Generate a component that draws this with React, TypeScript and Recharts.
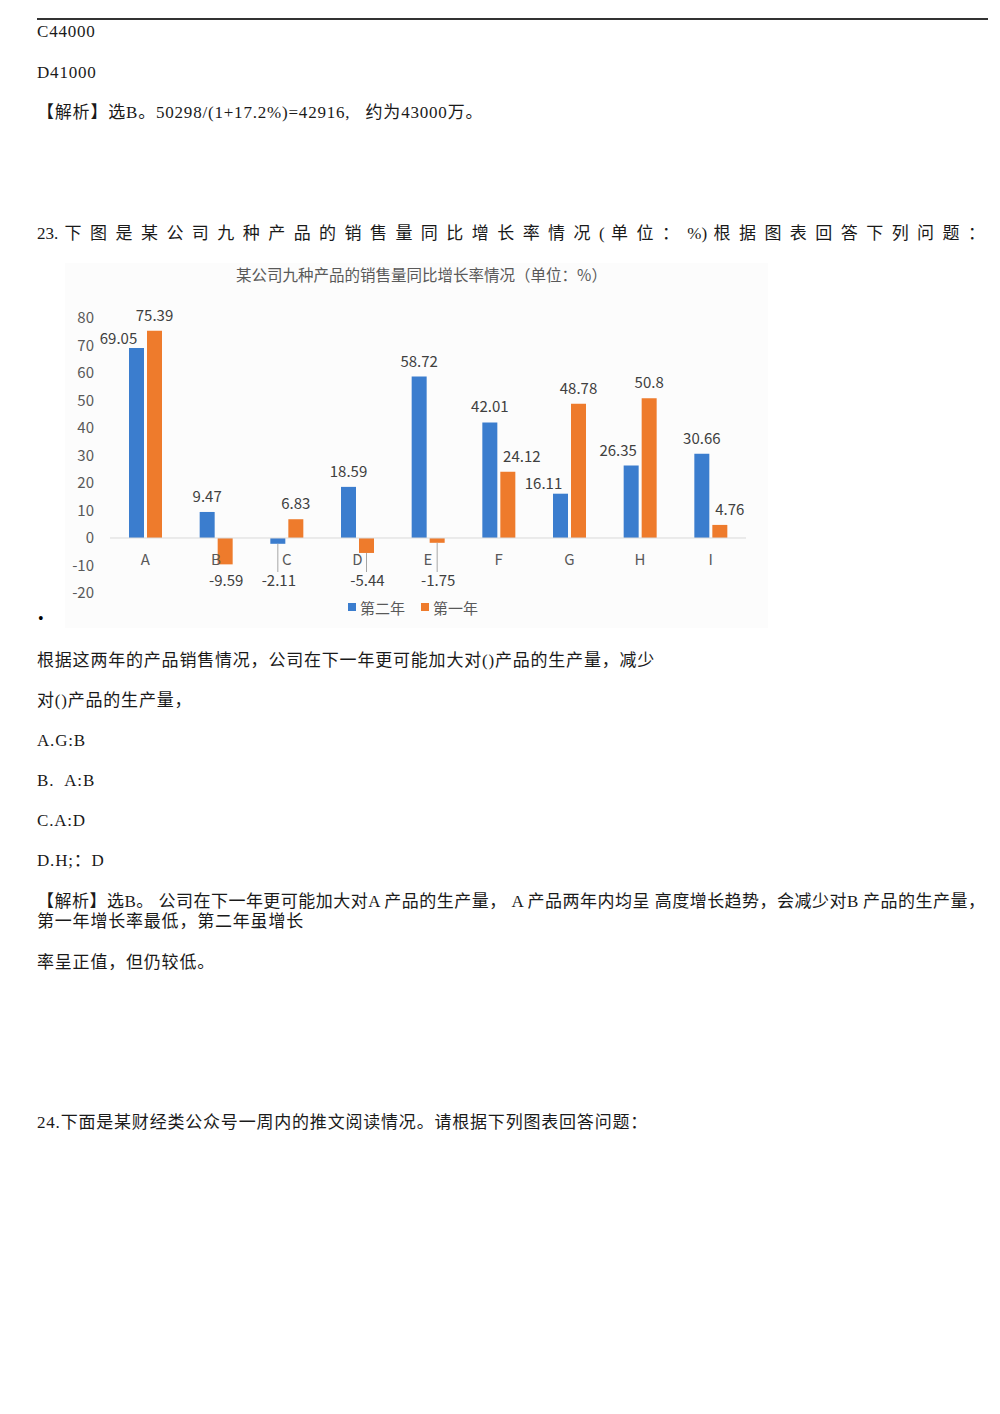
import React from "react";
import { BarChart, Bar, XAxis, YAxis, ReferenceLine, Legend, LabelList } from "recharts";

const categories = ["A", "B", "C", "D", "E", "F", "G", "H", "I"];
const secondYear = [69.05, 9.47, -2.11, 18.59, 58.72, 42.01, 16.11, 26.35, 30.66];
const firstYear = [75.39, -9.59, 6.83, -5.44, -1.75, 24.12, 48.78, 50.8, 4.76];
const yTicks = [-20, -10, 0, 10, 20, 30, 40, 50, 60, 70, 80];
const seriesNames = { second: "第二年", first: "第一年" };
const chartTitle = "某公司九种产品的销售量同比增长率情况（单位：%）";

const BLUE = "#3B7DCE";
const ORANGE = "#EE7B2C";
const GRAY_TEXT = "#595959";
const CHART_FONT = '"Noto Sans CJK SC", "Open Sans", sans-serif';
const DOC_FONT = '"Liberation Serif", "Noto Sans CJK SC", serif';

// small label nudges (style only) as in the source picture
const labelNudge: Record<string, [number, number]> = {
  "A-second": [-18, 6],
  "F-first": [14, 0],
  "G-second": [-17, 5],
  "H-second": [-13, 0],
  "I-first": [10, 0],
};

const data = categories.map((c, i) => ({
  name: c,
  second: secondYear[i],
  first: firstYear[i],
}));

const makeLabel = (series: string) => (props: any) => {
  const vb = props.viewBox || {};
  const x = props.x ?? vb.x;
  const y = props.y ?? vb.y;
  const width = props.width ?? vb.width;
  const height = props.height ?? vb.height;
  const value = props.value;
  const index = props.index;
  if (x == null || y == null) return null;
  const top = Math.min(y, y + height);
  const bottom = Math.max(y, y + height);
  const cx = x + width / 2;
  const nudge = labelNudge[`${categories[index]}-${series}`] || [0, 0];
  if (value >= 0) {
    return (
      <text
        x={cx + nudge[0]}
        y={top - 10 + nudge[1]}
        textAnchor="middle"
        fontSize={15}
        fill="#404040"
        fontFamily={CHART_FONT}
      >
        {value}
      </text>
    );
  }
  const zero = top;
  const labelTop = zero + 36;
  return (
    <g>
      {labelTop - bottom > 12 && (
        <line x1={cx} x2={cx} y1={bottom} y2={zero + 34} stroke="#a6a6a6" strokeWidth={1} />
      )}
      <text
        x={cx + 1}
        y={zero + 48}
        textAnchor="middle"
        fontSize={15}
        fill="#404040"
        fontFamily={CHART_FONT}
      >
        {value}
      </text>
    </g>
  );
};

const CategoryTick = (props: any) => {
  const { x, y, payload } = props;
  return (
    <text x={x} y={y} dy={-36} textAnchor="middle" fontSize={15} fill={GRAY_TEXT} fontFamily={CHART_FONT}>
      {payload.value}
    </text>
  );
};

const LegendContent = () => (
  <div
    style={{
      height: 20,
      display: "flex",
      justifyContent: "center",
      alignItems: "center",
      fontFamily: CHART_FONT,
      fontSize: 15,
      color: GRAY_TEXT,
      gap: 16,
      paddingLeft: 15,
    }}
  >
    <span style={{ display: "flex", alignItems: "center" }}>
      <span style={{ width: 8, height: 8, background: BLUE, display: "inline-block", marginRight: 4 }} />
      {seriesNames.second}
    </span>
    <span style={{ display: "flex", alignItems: "center" }}>
      <span style={{ width: 8, height: 8, background: ORANGE, display: "inline-block", marginRight: 4 }} />
      {seriesNames.first}
    </span>
  </div>
);

const lineStyle = (cy: number, extra: React.CSSProperties = {}): React.CSSProperties => ({
  position: "absolute",
  left: 37,
  top: cy - 11,
  lineHeight: "22px",
  fontSize: 17,
  letterSpacing: 0.8,
  whiteSpace: "nowrap",
  color: "#1a1a1a",
  fontFamily: DOC_FONT,
  ...extra,
});

const justified = (cy: number): React.CSSProperties =>
  lineStyle(cy, {
    width: 948,
    whiteSpace: "normal",
    textAlign: "justify",
    textAlignLast: "justify",
    letterSpacing: 0,
  } as React.CSSProperties);

export default function App() {
  return (
    <div style={{ position: "absolute", left: 0, top: 0, width: 1000, height: 1414, background: "#fff" }}>
      <div style={{ position: "absolute", left: 37, top: 18, width: 951, height: 2, background: "#333" }} />
      <div style={lineStyle(32)}>C44000</div>
      <div style={lineStyle(73)}>D41000</div>
      <div style={lineStyle(113)}>【解析】选B。50298/(1+17.2%)=42916,&nbsp;&nbsp;&nbsp;约为43000万。</div>
      <div style={justified(234)}>
        23. 下 图 是 某 公 司 九 种 产 品 的 销 售 量 同 比 增 长 率 情 况 ( 单 位 ： %) 根 据 图 表 回 答 下 列 问 题 ：
      </div>

      <div style={{ position: "absolute", left: 65, top: 263, width: 703, height: 365, background: "#fcfcfc" }}>
        <div
          style={{
            position: "absolute",
            left: 0,
            top: 0,
            width: 703,
            textAlign: "center",
            fontFamily: CHART_FONT,
            fontSize: 15.5,
            lineHeight: "22px",
            color: GRAY_TEXT,
            zIndex: 2,
            paddingLeft: 10,
            boxSizing: "border-box",
          }}
        >
          {chartTitle}
        </div>
        <BarChart
          width={703}
          height={365}
          data={data}
          margin={{ top: 55, right: 22, left: 0, bottom: 11 }}
          barSize={15}
          barGap={3}
        >
          <XAxis
            dataKey="name"
            axisLine={false}
            tickLine={false}
            height={4}
            tick={<CategoryTick />}
            interval={0}
          />
          <YAxis
            domain={[-20, 80]}
            ticks={yTicks}
            axisLine={false}
            tickLine={false}
            width={45}
            tickMargin={10}
            interval={0}
            tick={{ fontSize: 15, fill: GRAY_TEXT, fontFamily: CHART_FONT }}
          />
          <ReferenceLine y={0} stroke="#d9d9d9" strokeWidth={1} />
          <Legend verticalAlign="bottom" content={<LegendContent />} />
          <Bar dataKey="second" name={seriesNames.second} fill={BLUE} isAnimationActive={false}>
            <LabelList dataKey="second" content={makeLabel("second")} />
          </Bar>
          <Bar dataKey="first" name={seriesNames.first} fill={ORANGE} isAnimationActive={false}>
            <LabelList dataKey="first" content={makeLabel("first")} />
          </Bar>
        </BarChart>
      </div>

      <div style={{ position: "absolute", left: 38, top: 608, fontSize: 16, lineHeight: "22px", color: "#000" }}>•</div>
      <div style={lineStyle(661)}>根据这两年的产品销售情况，公司在下一年更可能加大对()产品的生产量，减少</div>
      <div style={lineStyle(701)}>对()产品的生产量，</div>
      <div style={lineStyle(741)}>A.G:B</div>
      <div style={lineStyle(781)}>B.&nbsp;&nbsp;A:B</div>
      <div style={lineStyle(821)}>C.A:D</div>
      <div style={lineStyle(861)}>D.H;：D</div>
      <div style={justified(902)}>
        【解析】选B。 公司在下一年更可能加大对A 产品的生产量， A 产品两年内均呈 高度增长趋势，会减少对B 产品的生产量，
      </div>
      <div style={lineStyle(922)}>第一年增长率最低，第二年虽增长</div>
      <div style={lineStyle(963)}>率呈正值，但仍较低。</div>
      <div style={lineStyle(1123)}>24.下面是某财经类公众号一周内的推文阅读情况。请根据下列图表回答问题：</div>
    </div>
  );
}
